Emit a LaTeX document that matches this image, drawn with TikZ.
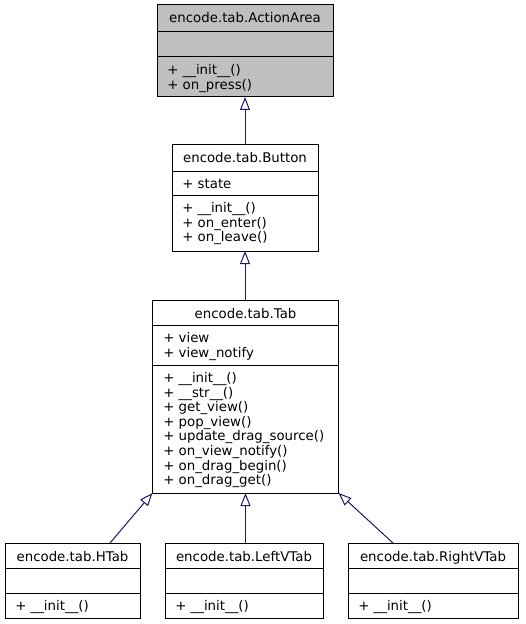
\documentclass[tikz,border=0pt]{standalone}
\usepackage{fontspec}
\setmainfont{DejaVu Sans}
\usetikzlibrary{arrows.meta,calc,fit}
\definecolor{clsgray}{RGB}{191,191,191}
\definecolor{edgeblue}{RGB}{25,25,112}
\begin{document}
\begin{tikzpicture}[x=0.75pt,y=-0.75pt,
  cls/.style={draw=black,line width=0.75pt,inner sep=0pt,outer sep=0pt,rectangle},
  lbl/.style={inner sep=0pt,anchor=base,font=\fontsize{10}{10.95}\selectfont},
  mem/.style={inner sep=0pt,anchor=base west,font=\fontsize{10}{10.95}\selectfont},
  divl/.style={draw=black,line width=0.75pt},
  inh/.style={draw=edgeblue,line width=0.75pt,-{Triangle[open,length=9.75pt,width=7.5pt]}}]
\useasboundingbox (0,0) rectangle (525,624);

% ActionArea
\node[cls,fill=clsgray,fit={(157,5)(333,97)}] (aa) {};
\draw[divl] (157,32) -- (333,32);
\draw[divl] (157,57) -- (333,57);
\node[lbl] (aat) at (245,23) {encode.tab.ActionArea};
\foreach \t [count=\i from 0] in {+ \_\_init\_\_(), + on\_press()}
  \node[mem] (aam\i) at (167,74.5+14.6*\i) {\t};

% Button
\node[cls,fit={(172,145)(318,251)}] (bt) {};
\draw[divl] (172,171) -- (318,171);
\draw[divl] (172,195) -- (318,195);
\node[lbl] (btt) at (245,162.5) {encode.tab.Button};
\node[mem] (bta) at (182,188) {+ state};
\foreach \t [count=\i from 0] in {+ \_\_init\_\_(), + on\_enter(), + on\_leave()}
  \node[mem] (btm\i) at (182,212.5+14.6*\i) {\t};

% Tab
\node[cls,fit={(152.5,300.5)(338.5,493)}] (tab) {};
\draw[divl] (152.5,325) -- (338.5,325);
\draw[divl] (152.5,365) -- (338.5,365);
\node[lbl] (tabt) at (245.5,318) {encode.tab.Tab};
\foreach \t [count=\i from 0] in {+ view, + view\_notify}
  \node[mem] (taba\i) at (163,342.5+14.6*\i) {\t};
\foreach \t [count=\i from 0] in {+ \_\_init\_\_(), + \_\_str\_\_(), + get\_view(), + pop\_view(), + update\_drag\_source(), + on\_view\_notify(), + on\_drag\_begin(), + on\_drag\_get()}
  \node[mem] (tabm\i) at (163,382.5+14.6*\i) {\t};

% HTab
\node[cls,fit={(5,543)(140,618)}] (ht) {};
\draw[divl] (5,568) -- (140,568);
\draw[divl] (5,593) -- (140,593);
\node[lbl] (htt) at (72.5,561) {encode.tab.HTab};
\node[mem] (htm) at (15,610.5) {+ \_\_init\_\_()};

% LeftVTab
\node[cls,fit={(165,543)(323,618)}] (lv) {};
\draw[divl] (165,568) -- (323,568);
\draw[divl] (165,593) -- (323,593);
\node[lbl] (lvt) at (244,561) {encode.tab.LeftVTab};
\node[mem] (lvm) at (175,610.5) {+ \_\_init\_\_()};

% RightVTab
\node[cls,fit={(348,543)(518,618)}] (rv) {};
\draw[divl] (348,568) -- (518,568);
\draw[divl] (348,593) -- (518,593);
\node[lbl] (rvt) at (433,561) {encode.tab.RightVTab};
\node[mem] (rvm) at (358,610.5) {+ \_\_init\_\_()};

% inheritance edges
\draw[inh] (bt.north) -- (aa.south);
\draw[inh] (bt.south |- tab.north) -- (bt.south);
\draw[inh] (tab.south |- lv.north) -- (tab.south);
\draw[inh] ($(ht.north)+(37.5,0)$) -- (tab.south west);
\draw[inh] ($(rv.north)+(-40,0)$) -- (tab.south east);
\end{tikzpicture}
\end{document}
